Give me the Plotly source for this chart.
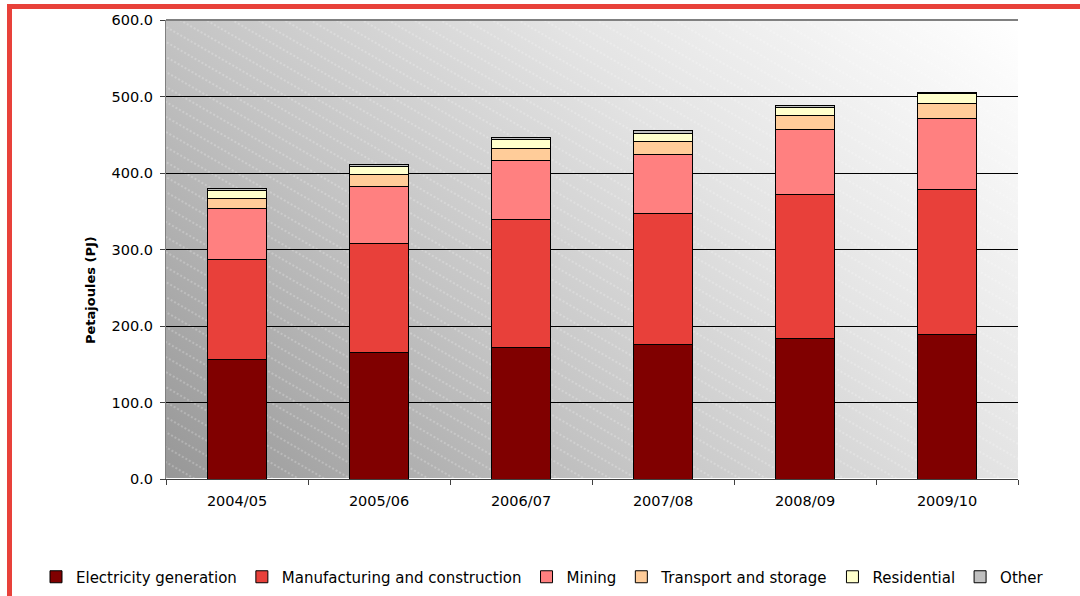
import base64
import plotly.graph_objects as go

years = ["2004/05", "2005/06", "2006/07", "2007/08", "2008/09", "2009/10"]
electricity = [156.8, 165.9, 171.9, 176.4, 184.2, 189.4]
manufacturing = [129.7, 142.4, 167.7, 170.2, 187.2, 189.4]
mining = [67.5, 73.9, 76.2, 77.4, 84.9, 92.8]
transport = [13.1, 15.3, 16.6, 17.5, 18.3, 19.6]
residential = [9.9, 10.9, 10.8, 9.6, 11.4, 12.1]
other = [3.1, 3.1, 3.6, 3.9, 2.0, 2.3]

series = [
    ("Electricity generation", electricity, "#800000"),
    ("Manufacturing and construction", manufacturing, "#E8403A"),
    ("Mining", mining, "#FF8080"),
    ("Transport and storage", transport, "#FFCC99"),
    ("Residential", residential, "#FFFFCC"),
    ("Other", other, "#C0C0C0"),
]
y_ticks = [0, 100, 200, 300, 400, 500, 600]
y_title = "Petajoules (PJ)"

W, H = 852, 459
svg = f"""<svg xmlns='http://www.w3.org/2000/svg' width='{W}' height='{H}' viewBox='0 0 {W} {H}' preserveAspectRatio='none'>
<defs>
<linearGradient id='g' gradientUnits='userSpaceOnUse' x1='0' y1='{H}' x2='{(W+H)/2}' y2='{H-(W+H)/2}'>
<stop offset='0' stop-color='#979797'/>
<stop offset='0.35' stop-color='#c4c4c4'/>
<stop offset='0.65' stop-color='#e4e4e4'/>
<stop offset='1' stop-color='#ffffff'/>
</linearGradient>
<pattern id='p' width='40' height='13' patternUnits='userSpaceOnUse' patternTransform='rotate(30)'>
<line x1='0' y1='6' x2='40' y2='6' stroke='#ffffff' stroke-width='1' stroke-dasharray='2,2' stroke-opacity='0.45'/>
</pattern>
</defs>
<rect x='0' y='0' width='{W}' height='{H}' fill='url(#g)'/>
<rect x='0' y='0' width='{W}' height='{H}' fill='url(#p)'/>
</svg>"""
bg_uri = "data:image/svg+xml;base64," + base64.b64encode(svg.encode()).decode()

fig = go.Figure()
for name, vals, col in series:
    fig.add_trace(go.Bar(
        x=years, y=vals, name=name,
        marker=dict(color=col, line=dict(color="#000000", width=1)),
        width=0.41,
    ))

L, R, T, B = 166, 62, 20, 117
PW, PH = 1080 - L - R, 596 - T - B


def px(x):
    return (x - L) / PW


def py(y):
    return (596 - B - y) / PH


red = "#E8413A"
shapes = [
    dict(type="rect", xref="paper", yref="paper", x0=px(7), x1=px(1080), y0=py(9), y1=py(4),
         fillcolor=red, line=dict(width=0), layer="above"),
    dict(type="rect", xref="paper", yref="paper", x0=px(7), x1=px(12), y0=py(600), y1=py(4),
         fillcolor=red, line=dict(width=0), layer="above"),
    dict(type="line", xref="paper", yref="paper", x0=0, x1=1, y0=1, y1=1,
         line=dict(color="#808080", width=2), layer="above"),
]

FONT = "DejaVu Sans, Verdana, sans-serif"
fig.update_layout(
    width=1080, height=596,
    margin=dict(l=L, r=R, t=T, b=B, autoexpand=False),
    paper_bgcolor="white",
    plot_bgcolor="rgba(0,0,0,0)",
    barmode="stack",
    font=dict(family=FONT, size=14.5, color="#000000"),
    images=[dict(source=bg_uri, xref="paper", yref="paper", x=0, y=1, sizex=1, sizey=1,
                 xanchor="left", yanchor="top", sizing="stretch", layer="below")],
    shapes=shapes,
    annotations=[dict(text=f"<b>{y_title}</b>", xref="paper", yref="paper", x=px(90), y=py(290),
                      xanchor="center", yanchor="middle", textangle=-90, showarrow=False,
                      font=dict(size=13, family=FONT))],
    showlegend=True,
    legend=dict(orientation="h", xref="paper", yref="paper", x=px(36), xanchor="left",
                y=py(577), yanchor="middle", font=dict(size=15), traceorder="normal",
                itemwidth=30, tracegroupgap=0),
    xaxis=dict(showline=True, linecolor="#404040", linewidth=1, ticks="outside", tickson="boundaries",
               ticklen=5, tickcolor="#404040", tickfont=dict(size=14.5), showgrid=False,
               ticklabelstandoff=9),
    yaxis=dict(range=[0, 600], tickvals=y_ticks, tickformat=".1f", showline=True,
               linecolor="#808080", linewidth=1, ticks="outside", ticklen=5, tickcolor="#404040",
               gridcolor="#000000", gridwidth=1, tickfont=dict(size=14.5), ticklabelstandoff=4),
)

fig.write_html("out.html")
